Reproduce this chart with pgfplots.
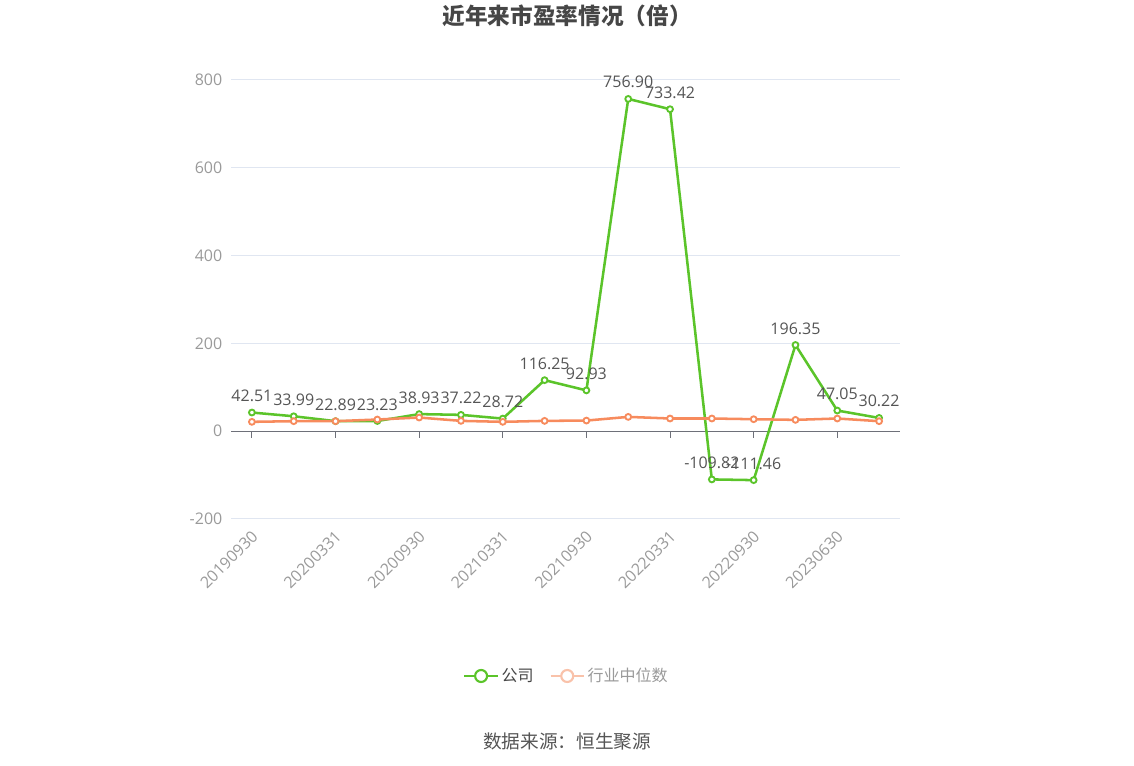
\documentclass[border=0pt]{standalone}
\usepackage{fontspec}
\setmainfont{Open Sans}
\newfontfamily\cjk{Noto Sans CJK SC}
\usepackage{pgfplots}
\pgfplotsset{compat=1.18}

\definecolor{gs}{HTML}{5BC42A}
\definecolor{os}{HTML}{F78B5D}
\definecolor{oslight}{HTML}{F9C2AA}
\definecolor{gridc}{HTML}{E0E6F1}
\definecolor{axisc}{HTML}{6E7079}
\definecolor{tickc}{HTML}{9A9A9A}
\definecolor{labc}{HTML}{555555}
\definecolor{titlec}{HTML}{464646}

\begin{document}
\begin{tikzpicture}
\useasboundingbox (0,0) rectangle (850.5pt,574.5pt);

\node[font=\cjk\bfseries\fontsize{17pt}{20pt}\selectfont, text=titlec] at (425.25pt,562.5pt) {近年来市盈率情况（倍）};
\node[font=\cjk\fontsize{14pt}{16pt}\selectfont, text=labc] at (425.25pt,18.75pt) {数据来源：恒生聚源};

\begin{axis}[
    at={(173.25pt,185.25pt)}, anchor=south west,
    scale only axis, width=501.75pt, height=329.25pt,
    xmin=-0.5, xmax=15.5, ymin=-200, ymax=800,
    axis line style={draw=none},
    xtick={0,2,...,14},
    xticklabels={20190930,20200331,20200930,20210331,20210930,20220331,20220930,20230630},
    ytick={-200,0,...,800},
    major tick length=0pt,
    ymajorgrids, grid style={color=gridc, line width=0.75pt},
    tick label style={font=\fontsize{12pt}{14pt}\selectfont, text=tickc},
    xticklabel style={xshift=-1pt, yshift=-3pt, rotate=45, anchor=north east},
    yticklabel style={xshift=-3pt},
    /pgf/number format/assume math mode=true,
    clip=false,
    legend style={at={(0.502,-0.3576)}, anchor=center, draw=none, fill=none,
        legend columns=2, font=\cjk\fontsize{12pt}{14pt}\selectfont,
        /tikz/every even column/.append style={column sep=10pt}},
    legend image code/.code={
        \draw[#1, line width=1.6pt] (0pt,0pt) -- (25pt,0pt);
        \draw[#1, line width=1.6pt, fill=white] (12.5pt,0pt) circle (4.5pt);},
]

\draw[axisc, line width=0.75pt] (axis cs:-0.5,0) -- (axis cs:15.5,0);
\pgfplotsinvokeforeach{0,2,4,6,8,10,12,14}{
    \draw[axisc, line width=0.75pt] (axis cs:#1,0) -- ([yshift=-5pt]axis cs:#1,0);
}

% company
\addplot[gs, line width=1.9pt, mark=*, mark size=2.2pt,
    mark options={fill=white, line width=1.4pt}, forget plot,
    nodes near coords={\pgfmathprintnumber[fixed, precision=2, fixed zerofill]{\pgfplotspointmeta}},
    every node near coord/.append style={font=\fontsize{12pt}{14pt}\selectfont, text=labc, anchor=south, yshift=4pt}]
coordinates {
(0,42.51) (1,33.99) (2,22.89) (3,23.23) (4,38.93) (5,37.22) (6,28.72) (7,116.25)
(8,92.93) (9,756.90) (10,733.42) (11,-109.82) (12,-111.46) (13,196.35) (14,47.05) (15,30.22)
};

% industry median
\addplot[os, line width=1.9pt, mark=*, mark size=2.2pt,
    mark options={fill=white, line width=1.4pt}, forget plot]
coordinates {
(0,21.3) (1,22.8) (2,22.8) (3,26.6) (4,31.1) (5,23.5) (6,21.3) (7,23.5)
(8,24.2) (9,32.6) (10,28.9) (11,28.9) (12,27.3) (13,25.8) (14,28.9) (15,22.8)
};

\addlegendimage{gs}
\addlegendentry{\textcolor{titlec}{公司}}
\addlegendimage{oslight}
\addlegendentry{\textcolor{tickc}{行业中位数}}
\end{axis}
\end{tikzpicture}
\end{document}
